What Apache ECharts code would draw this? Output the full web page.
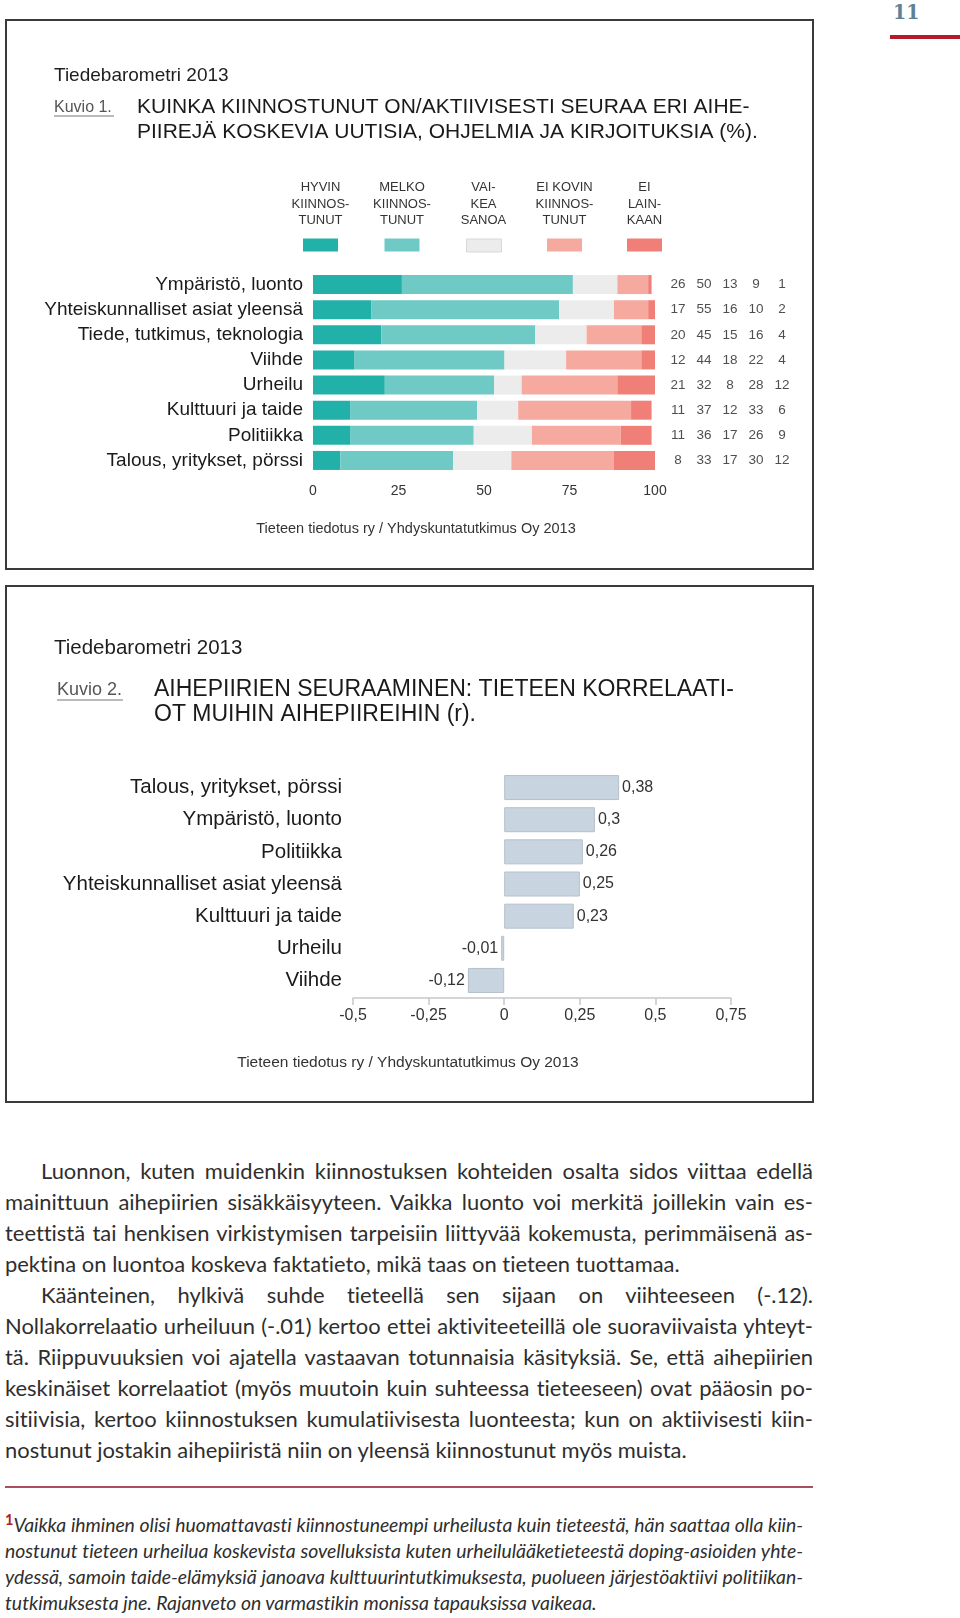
<!DOCTYPE html>
<html><head><meta charset="utf-8">
<script src="https://cdn.jsdelivr.net/npm/echarts@6/dist/echarts.min.js"></script>
<style>
html,body{margin:0;padding:0;background:#fff;}
body{width:960px;height:1618px;position:relative;overflow:hidden;}
.chart{position:absolute;}
.frame{position:absolute;border:2px solid #3a3a3a;box-sizing:border-box;pointer-events:none;}
#pageno{position:absolute;left:893px;top:-1px;font:bold 21px 'DejaVu Serif Condensed','DejaVu Serif',serif;color:#5d8197;}
#pagebar{position:absolute;left:890px;top:35px;width:70px;height:4px;background:#b31b2c;}
.txt{position:absolute;left:5px;width:808px;font-family:Lato,sans-serif;color:#2e2e2e;font-size:20px;
  font-variant-ligatures:none;font-feature-settings:"liga" 0,"clig" 0,"dlig" 0;}
.txt .ln{display:block;text-align:justify;text-align-last:justify;white-space:normal;}
#body .ln{height:31px;line-height:31px;}
#foot .ln{height:26px;line-height:26px;font-style:italic;}
.txt .ln.last{text-align:left;text-align-last:left;}
.txt .ln.ind{padding-left:36px;}
#foot{width:798px;}
#rule{position:absolute;left:5px;top:1486px;width:808px;height:2px;background:#a8505f;}
sup.fn{color:#b31b2c;font-weight:bold;font-style:normal;font-size:0.75em;vertical-align:0.45em;line-height:0;}
</style>
</head>
<body>
<div id="pageno">11</div>
<div id="pagebar"></div>

<div id="c1" class="chart" style="left:5px;top:19px;width:808px;height:550px;"></div>
<div class="frame" style="left:5px;top:19px;width:809px;height:551px;"></div>
<div id="c2" class="chart" style="left:5px;top:585px;width:808px;height:517px;"></div>
<div class="frame" style="left:5px;top:585px;width:809px;height:518px;"></div>

<div id="body" class="txt" style="top:1154.5px;">
<div class="ln ind">Luonnon, kuten muidenkin kiinnostuksen kohteiden osalta sidos viittaa edellä</div>
<div class="ln">mainittuun aihepiirien sisäkkäisyyteen. Vaikka luonto voi merkitä joillekin vain es-</div>
<div class="ln">teettistä tai henkisen virkistymisen tarpeisiin liittyvää kokemusta, perimmäisenä as-</div>
<div class="ln last" id="ref1">pektina on luontoa koskeva faktatieto, mikä taas on tieteen tuottamaa.</div>
<div class="ln ind">Käänteinen, hylkivä suhde tieteellä sen sijaan on viihteeseen (-.12).</div>
<div class="ln">Nollakorrelaatio urheiluun (-.01) kertoo ettei aktiviteeteillä ole suoraviivaista yhteyt-</div>
<div class="ln">tä. Riippuvuuksien voi ajatella vastaavan totunnaisia käsityksiä. Se, että aihepiirien</div>
<div class="ln">keskinäiset korrelaatiot (myös muutoin kuin suhteessa tieteeseen) ovat pääosin po-</div>
<div class="ln">sitiivisia, kertoo kiinnostuksen kumulatiivisesta luonteesta; kun on aktiivisesti kiin-</div>
<div class="ln last">nostunut jostakin aihepiiristä niin on yleensä kiinnostunut myös muista.</div>
</div>
<div id="rule"></div>
<div id="foot" class="txt" style="top:1512px;">
<div class="ln"><sup class="fn">1</sup>Vaikka ihminen olisi huomattavasti kiinnostuneempi urheilusta kuin tieteestä, hän saattaa olla kiin-</div>
<div class="ln">nostunut tieteen urheilua koskevista sovelluksista kuten urheilulääketieteestä doping-asioiden yhte-</div>
<div class="ln">ydessä, samoin taide-elämyksiä janoava kulttuurintutkimuksesta, puolueen järjestöaktiivi politiikan-</div>
<div class="ln last" id="ref2">tutkimuksesta jne. Rajanveto on varmastikin monissa tapauksissa vaikeaa.</div>
</div>

<script>
// ---------- Chart 1 data ----------
const categories1 = ['Ympäristö, luonto','Yhteiskunnalliset asiat yleensä','Tiede, tutkimus, teknologia','Viihde','Urheilu','Kulttuuri ja taide','Politiikka','Talous, yritykset, pörssi'];
const hyvinKiinnostunut = [26,17,20,12,21,11,11,8];
const melkoKiinnostunut = [50,55,45,44,32,37,36,33];
const vaikeaSanoa = [13,16,15,18,8,12,17,17];
const eiKovinKiinnostunut = [9,10,16,22,28,33,26,30];
const eiLainkaan = [1,2,4,4,12,6,9,12];
const seriesNames1 = ['HYVIN KIINNOSTUNUT','MELKO KIINNOSTUNUT','VAIKEA SANOA','EI KOVIN KIINNOSTUNUT','EI LAINKAAN'];
const legendLabels1 = ['HYVIN\nKIINNOS-\nTUNUT','MELKO\nKIINNOS-\nTUNUT','VAI-\nKEA\nSANOA','EI KOVIN\nKIINNOS-\nTUNUT','EI\nLAIN-\nKAAN'];
const xTicks1 = [0,25,50,75,100];

// ---------- Chart 2 data ----------
const categories2 = ['Talous, yritykset, pörssi','Ympäristö, luonto','Politiikka','Yhteiskunnalliset asiat yleensä','Kulttuuri ja taide','Urheilu','Viihde'];
const correlations = [0.38,0.3,0.26,0.25,0.23,-0.01,-0.12];
const xTicks2 = [-0.5,-0.25,0,0.25,0.5,0.75];

const FONT = "'Liberation Sans', Arial, sans-serif";
const colors1 = ['#22b1a9','#6fcac6','#ececec','#f6aa9f','#f08077'];
function txt(x,y,text,size,fill,align,extra){
  return Object.assign({type:'text',x:x,y:y,silent:true,style:{text:text,font:size+'px '+FONT,fill:fill||'#1e1e1e',
    align:align||'left',textAlign:align||'left',verticalAlign:'middle',textVerticalAlign:'middle'}},extra||{});
}

// ---------- Chart 1 ----------
const c1 = echarts.init(document.getElementById('c1'),null,{renderer:'canvas'});
const grid1 = {left:308,top:253,width:342,height:201};
const swatchCenters = [315.5,397,478.5,559.5,639.5];
const allSeries1 = [hyvinKiinnostunut,melkoKiinnostunut,vaikeaSanoa,eiKovinKiinnostunut,eiLainkaan];
const tableData = [];
allSeries1.forEach((arr,c)=>arr.forEach((v,r)=>tableData.push([c,r,v])));
const graphic1 = [
  txt(49,56.5,'Tiedebarometri 2013',19,'#1e1e1e'),
  txt(49,88.5,'Kuvio 1.',16,'#555'),
  {type:'line',silent:true,shape:{x1:49,y1:97,x2:109,y2:97},style:{stroke:'#777',lineWidth:1}},
  txt(132,88.5,'KUINKA KIINNOSTUNUT ON/AKTIIVISESTI SEURAA ERI AIHE-',21,'#1a1a1a'),
  txt(132,113,'PIIREJÄ KOSKEVIA UUTISIA, OHJELMIA JA KIRJOITUKSIA (%).',21,'#1a1a1a'),
  txt(411,510,'Tieteen tiedotus ry / Yhdyskuntatutkimus Oy 2013',14.5,'#333','center')
];
legendLabels1.forEach((l,i)=>{
  graphic1.push({type:'text',x:swatchCenters[i],y:185,silent:true,style:{text:l,font:'13px '+FONT,fill:'#333',align:'center',textAlign:'center',verticalAlign:'middle',textVerticalAlign:'middle',lineHeight:16.5}});
});
const option1 = {
  animation:false,
  textStyle:{fontFamily:FONT},
  graphic:graphic1,
  legend: seriesNames1.map((n,i)=>({data:[n],left:swatchCenters[i]-17.5,top:219.5,itemWidth:35,itemHeight:13,icon:'rect',
    formatter:()=>'',selectedMode:false,padding:0,itemGap:0,itemStyle:{borderWidth:i===2?1:0,borderColor:'#d8d8d8'}})),
  grid:[grid1,{left:660,top:253,width:130,height:201}],
  xAxis:[
    {type:'value',gridIndex:0,min:0,max:100,interval:25,axisLine:{show:false},axisTick:{show:false},splitLine:{show:false},
     axisLabel:{fontSize:14,color:'#333',margin:11,fontFamily:FONT,customValues:xTicks1}},
    {type:'category',gridIndex:1,data:seriesNames1,show:false}
  ],
  yAxis:[
    {type:'category',gridIndex:0,data:categories1,inverse:true,axisLine:{show:false},axisTick:{show:false},
     axisLabel:{fontSize:19,color:'#1a1a1a',margin:10,fontFamily:FONT}},
    {type:'category',gridIndex:1,data:categories1,inverse:true,show:false}
  ],
  series: allSeries1.map((arr,i)=>({
    name:seriesNames1[i],type:'bar',stack:'total',xAxisIndex:0,yAxisIndex:0,barWidth:19,data:arr,
    itemStyle:{color:colors1[i]},silent:true
  })).concat([{
    type:'scatter',xAxisIndex:1,yAxisIndex:1,symbolSize:1,itemStyle:{color:'rgba(0,0,0,0)'},data:tableData,silent:true,
    label:{show:true,position:'inside',formatter:p=>String(p.value[2]),fontSize:13.5,color:'#222',fontFamily:FONT}
  }])
};
c1.setOption(option1);

// ---------- Chart 2 ----------
const c2 = echarts.init(document.getElementById('c2'),null,{renderer:'canvas'});
const fmtComma = v => (v===0?'0':String(v).replace('.',','));
const option2 = {
  animation:false,
  textStyle:{fontFamily:FONT},
  graphic:[
    txt(49,63.5,'Tiedebarometri 2013',20.5,'#1e1e1e'),
    txt(52,105,'Kuvio 2.',18,'#555'),
    {type:'line',silent:true,shape:{x1:52,y1:115,x2:118,y2:115},style:{stroke:'#777',lineWidth:1}},
    txt(149,105,'AIHEPIIRIEN SEURAAMINEN: TIETEEN KORRELAATI-',23,'#1a1a1a'),
    txt(149,129.5,'OT MUIHIN AIHEPIIREIHIN (r).',23,'#1a1a1a'),
    txt(403,478,'Tieteen tiedotus ry / Yhdyskuntatutkimus Oy 2013',15.5,'#333','center')
  ],
  grid:{left:348,top:186.5,width:378,height:225},
  xAxis:{type:'value',min:-0.5,max:0.75,interval:0.25,offset:1.5,
    axisLine:{show:true,lineStyle:{color:'#c8c8c8',width:1.5}},
    axisTick:{show:true,length:7,lineStyle:{color:'#c8c8c8',width:1.5}},
    splitLine:{show:false},
    axisLabel:{fontSize:16,color:'#333',margin:10,formatter:fmtComma,fontFamily:FONT,customValues:xTicks2}},
  yAxis:{type:'category',data:categories2,inverse:true,axisLine:{show:false},axisTick:{show:false},
    axisLabel:{fontSize:20.5,color:'#1a1a1a',margin:11,fontFamily:FONT}},
  series:[{type:'bar',barWidth:25,silent:true,
    data:correlations.map(v=>({value:v,label:{position:v<0?'left':'right'}})),
    itemStyle:{color:'#c8d4df',borderColor:'#b5c0ca',borderWidth:1},
    label:{show:true,distance:3,fontSize:16,color:'#333',fontFamily:FONT,formatter:p=>fmtComma(p.value)}
  }]
};
c2.setOption(option2);

// ---------- Text fitting (layout only) ----------
function natural(el){
  const old = el.style.cssText;
  el.style.display='inline-block'; el.style.whiteSpace='nowrap'; el.style.textAlignLast='left';
  el.style.textAlign='left'; el.style.width='auto'; el.style.paddingLeft='0';
  const w = el.getBoundingClientRect().width;
  el.style.cssText = old;
  return w;
}
function fitBlock(block, refEl, refWidth, fullWidth){
  const w = natural(refEl);
  const fs = 20*refWidth/w;
  block.style.fontSize = fs+'px';
  block.querySelectorAll('.ln').forEach(ln=>{
    if(ln.classList.contains('last')) return;
    const avail = fullWidth - (ln.classList.contains('ind')?36:0) - 2;
    const nw = natural(ln);
    if(nw > avail){
      const n = ln.textContent.length;
      ln.style.letterSpacing = (-(nw-avail+1)/n)+'px';
    }
  });
}
fitBlock(document.getElementById('body'), document.getElementById('ref1'), 675, 808);
fitBlock(document.getElementById('foot'), document.getElementById('ref2'), 592, 798);
</script>
</body></html>
